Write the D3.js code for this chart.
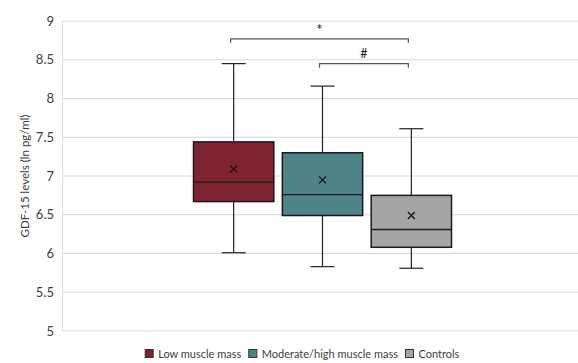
<!DOCTYPE html>
<html><head><meta charset="utf-8">
<script src="https://cdn.jsdelivr.net/npm/d3@7"></script>
<style>body{margin:0;background:#fff}svg{display:block}text{font-family:Lato,"Liberation Sans",sans-serif}</style>
</head><body><svg id="c" width="578" height="363"></svg>
<script>
const series = ["Low muscle mass","Moderate/high muscle mass","Controls"];
const colors = ["#7f2331","#4f8389","#a5a5a5"];
const whiskerLow = [6.01, 5.83, 5.81];
const q1 = [6.67, 6.49, 6.08];
const median = [6.92, 6.76, 6.31];
const q3 = [7.44, 7.30, 6.75];
const whiskerHigh = [8.45, 8.16, 7.61];
const means = [7.09, 6.95, 6.49];
const yTicks = [5,5.5,6,6.5,7,7.5,8,8.5,9];
const brackets = [{from:0,to:2,level:8.77,label:"*",size:15,dy:-4},{from:1,to:2,level:8.45,label:"#",size:12.5,dy:-6}];

const svg = d3.select("#c");
const y = d3.scaleLinear().domain([5,9]).range([331,21]);
const xOuter = d3.scaleBand().domain(["g"]).range([62,583]);
const x = d3.scaleBand().domain(series).range([xOuter("g")+131.5, xOuter("g")+xOuter.bandwidth()-131.5]).paddingInner(0.096);
const bw = x.bandwidth();

// grid
svg.append("g").selectAll("line").data(yTicks).join("line")
  .attr("x1",62).attr("x2",578).attr("y1",d=>y(d)).attr("y2",d=>y(d))
  .attr("stroke","#d9d9d9").attr("stroke-width",1);
svg.append("line").attr("x1",62.5).attr("x2",62.5).attr("y1",y(9)).attr("y2",y(5)).attr("stroke","#d9d9d9");

// y axis labels
const yAxis = d3.axisLeft(y).tickValues(yTicks).tickSize(0).tickPadding(8).tickFormat(d3.format("~g"));
const ga = svg.append("g").attr("transform","translate(62,0)").call(yAxis);
ga.select(".domain").remove();
ga.selectAll("text").attr("font-size","13px").attr("fill","#404040").style("font-family","Lato, sans-serif");

svg.append("text").attr("transform",`translate(25,${y(7)}) rotate(-90)`).attr("text-anchor","middle")
  .attr("font-size","11.5px").attr("fill","#404040").attr("dy","0.35em").text("GDF-15 levels (ln pg/ml)");

// boxes
series.forEach((s,i)=>{
  const cx = x(s)+bw/2;
  const g = svg.append("g");
  const capW = 24;
  g.append("line").attr("x1",cx).attr("x2",cx).attr("y1",y(whiskerHigh[i])).attr("y2",y(q3[i])).attr("stroke","#222").attr("stroke-width",1.2);
  g.append("line").attr("x1",cx).attr("x2",cx).attr("y1",y(q1[i])).attr("y2",y(whiskerLow[i])).attr("stroke","#222").attr("stroke-width",1.2);
  g.append("line").attr("x1",cx-capW/2).attr("x2",cx+capW/2).attr("y1",y(whiskerHigh[i])).attr("y2",y(whiskerHigh[i])).attr("stroke","#222").attr("stroke-width",1.2);
  g.append("line").attr("x1",cx-capW/2).attr("x2",cx+capW/2).attr("y1",y(whiskerLow[i])).attr("y2",y(whiskerLow[i])).attr("stroke","#222").attr("stroke-width",1.2);
  g.append("rect").attr("x",x(s)).attr("width",bw).attr("y",y(q3[i])).attr("height",y(q1[i])-y(q3[i]))
    .attr("fill",colors[i]).attr("stroke","#1a1a1a").attr("stroke-width",1.5);
  g.append("line").attr("x1",x(s)).attr("x2",x(s)+bw).attr("y1",y(median[i])).attr("y2",y(median[i])).attr("stroke","#1a1a1a").attr("stroke-width",1.3);
  const my = y(means[i]), m=3.5;
  g.append("path").attr("d",`M${cx-m},${my-m}L${cx+m},${my+m}M${cx-m},${my+m}L${cx+m},${my-m}`).attr("stroke","#111").attr("stroke-width",1.2);
});

// significance brackets
brackets.forEach(b=>{
  const x1 = x(series[b.from])+bw/2-3, x2 = x(series[b.to])+bw/2-3;
  const yy = y(b.level);
  svg.append("path").attr("d",`M${x1},${yy+4}V${yy}H${x2}V${yy+4}`).attr("fill","none").attr("stroke","#555").attr("stroke-width",1.2);
  svg.append("text").attr("x",(x1+x2)/2).attr("y",yy+b.dy).attr("text-anchor","middle").attr("font-size",b.size+"px").attr("fill","#222").text(b.label);
});

// legend
const lg = svg.append("g");
let lx = 0;
series.forEach((s,i)=>{
  const it = lg.append("g").attr("transform",`translate(${lx},0)`);
  it.append("rect").attr("x",0.5).attr("y",-8.5).attr("width",8).attr("height",8).attr("fill",colors[i]).attr("stroke","#333").attr("stroke-width",1);
  const t = it.append("text").attr("x",13.5).attr("y",0).attr("font-size","11px").attr("fill","#404040").text(s);
  lx += 13.5 + t.node().getComputedTextLength() + 7;
});
lg.attr("transform",`translate(${302 - (lx-7)/2},358)`);
</script></body></html>
